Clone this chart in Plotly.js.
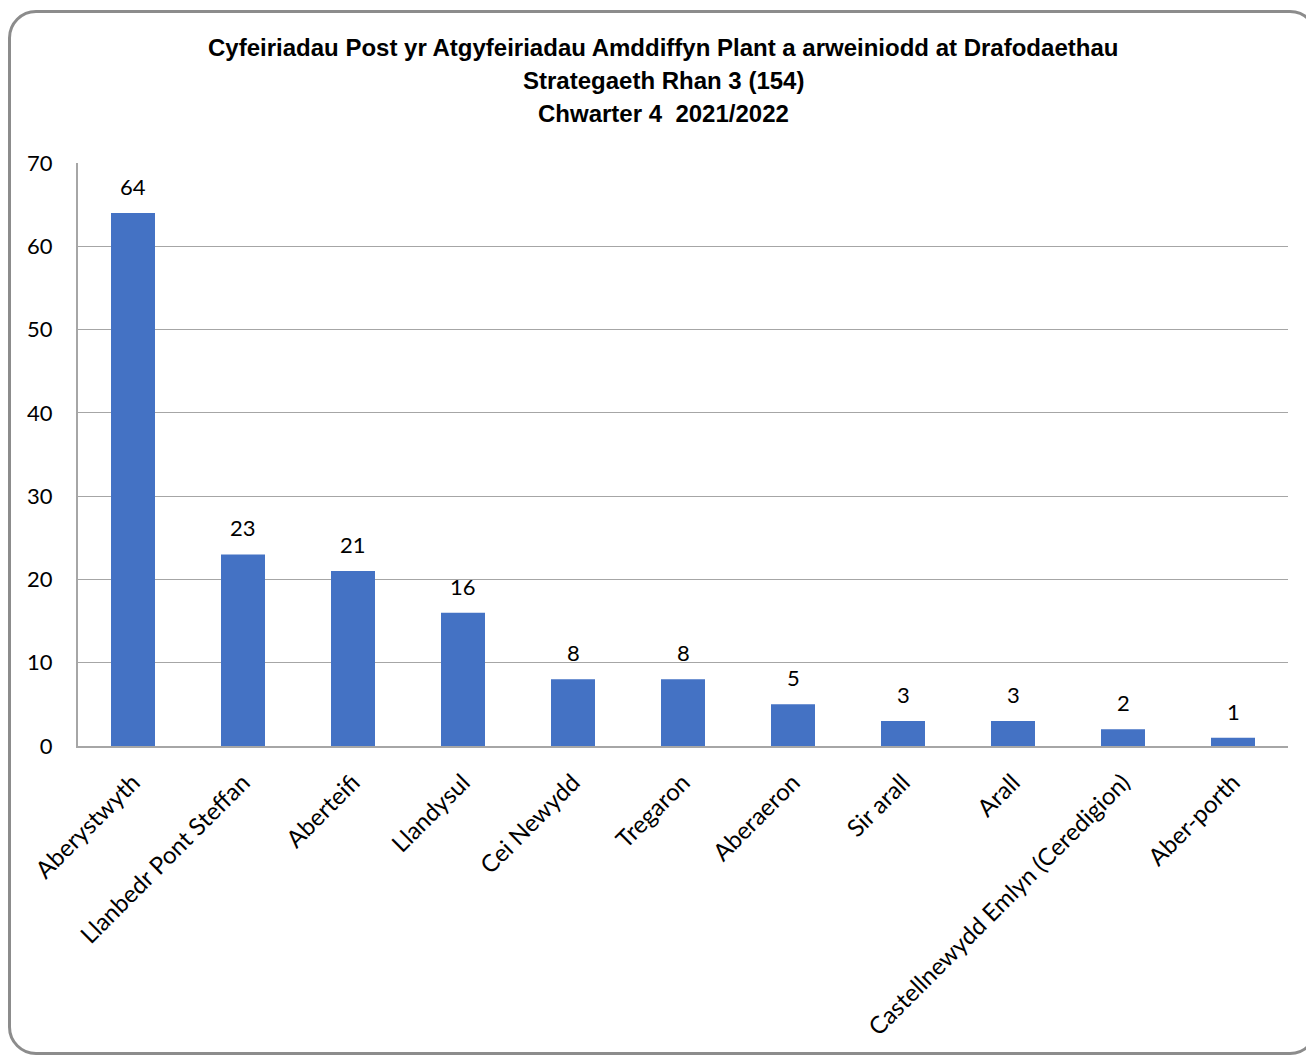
<!DOCTYPE html>
<html>
<head>
<meta charset="utf-8">
<script src="https://cdn.plot.ly/plotly-3.0.1.min.js"></script>
<style>
  html, body { margin: 0; padding: 0; background: #ffffff; overflow: hidden; }
  #frame { position: absolute; left: 8px; top: 10px; width: 1310px; height: 1045px;
           border: 3px solid #8c8c8c; border-radius: 28px; box-sizing: border-box; pointer-events: none; z-index: 5; }
  #chart { position: absolute; left: 0; top: 0; width: 1306px; height: 1059px; }
</style>
</head>
<body>
<div id="chart"></div>
<div id="frame"></div>
<script>
const categories = ["Aberystwyth", "Llanbedr Pont Steffan", "Aberteifi", "Llandysul", "Cei Newydd",
  "Tregaron", "Aberaeron", "Sir arall", "Arall", "Castellnewydd Emlyn (Ceredigion)", "Aber-porth"];
const values = [64, 23, 21, 16, 8, 8, 5, 3, 3, 2, 1];
const yTicks = [0, 10, 20, 30, 40, 50, 60, 70];
const titleLines = ["Cyfeiriadau Post yr Atgyfeiriadau Amddiffyn Plant a arweiniodd at Drafodaethau",
  "Strategaeth Rhan 3 (154)", "Chwarter 4  2021/2022"];

const labelFont = { family: "Lato, 'Open Sans', sans-serif", size: 22, color: "#000000" };
const xLabelFont = { family: "Lato, 'Open Sans', sans-serif", size: 24, color: "#000000" };
const titleFont = { family: "'Liberation Sans Narrow', 'Arial Narrow', Arial, sans-serif", size: 24, color: "#000000" };

const trace = {
  type: "bar",
  x: categories,
  y: values,
  marker: { color: "#4472C4" },
  hoverinfo: "x+y"
};

const annotations = categories.map((c, i) => ({
  x: c, y: values[i], xref: "x", yref: "y",
  text: String(values[i]), showarrow: false,
  yanchor: "bottom", yshift: 11, font: labelFont
}));

// title lines, centred at y = 47, 80, 113 px from the top of the page
titleLines.forEach((t, i) => {
  annotations.push({
    xref: "paper", yref: "paper", x: (663 - 78) / 1210, y: 1, yshift: 163 - (47 + 33 * i),
    xanchor: "center", yanchor: "middle", showarrow: false,
    text: "<b>" + t + "</b>", font: titleFont
  });
});

const layout = {
  width: 1306, height: 1059,
  margin: { l: 78, r: 18, t: 163, b: 313 },
  paper_bgcolor: "#ffffff", plot_bgcolor: "#ffffff",
  bargap: 0.6,
  showlegend: false,
  xaxis: {
    type: "category",
    tickangle: -45,
    tickfont: xLabelFont,
    ticklabelstandoff: 11,
    showline: true, linecolor: "#a6a6a6", linewidth: 2,
    ticks: "", showgrid: false, mirror: false
  },
  yaxis: {
    range: [0, 70],
    tickvals: yTicks,
    tickfont: labelFont,
    ticklabelstandoff: 19,
    showgrid: true, gridcolor: "#a6a6a6", gridwidth: 1,
    showline: true, linecolor: "#a6a6a6", linewidth: 2,
    zeroline: false, ticks: ""
  },
  annotations: annotations
};

Plotly.newPlot("chart", [trace], layout, { displayModeBar: false, staticPlot: true });
</script>
</body>
</html>
